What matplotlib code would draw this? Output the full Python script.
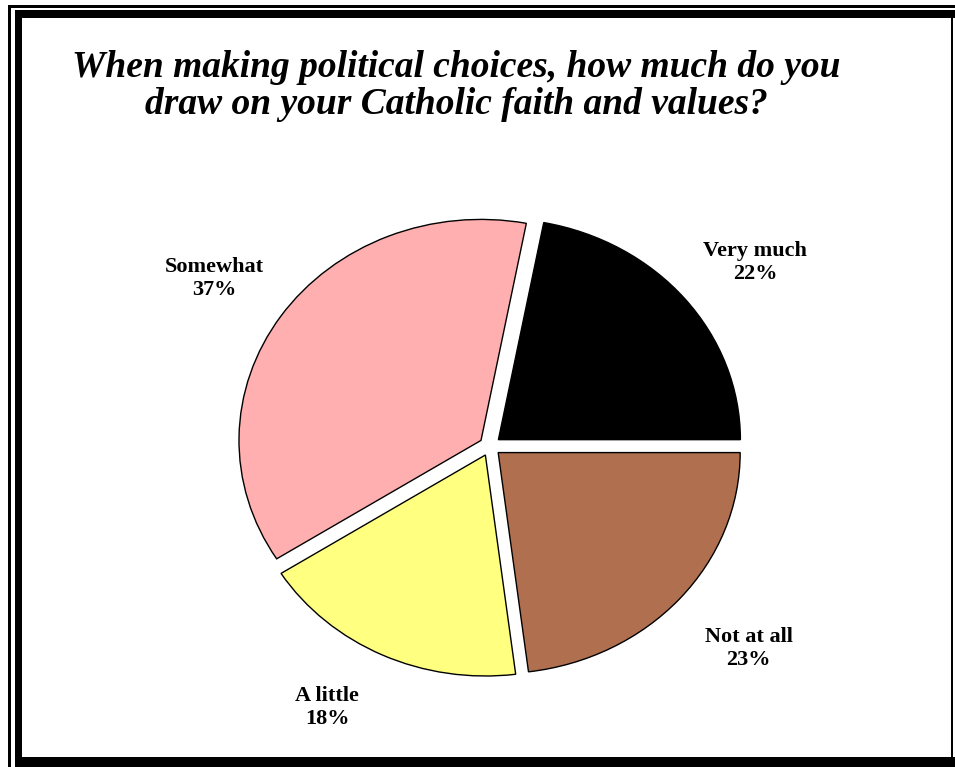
import matplotlib
matplotlib.use("Agg")
import matplotlib.pyplot as plt
from matplotlib.patches import Rectangle

title = "When making political choices, how much do you\ndraw on your Catholic faith and values?"
categories = ["Very much", "Somewhat", "A little", "Not at all"]
values = [22, 37, 18, 23]
colors = ["#000000", "#FFAFAF", "#FFFF80", "#B07050"]

W, H = 955, 767
fig = plt.figure(figsize=(W / 100, H / 100), dpi=100)

# pie axes: centre ~ (490, 446) px, rx 242 px, ry 221 px per unit
cx, cy, rx, ry, lim = 490, 446, 242, 221, 1.2
aw, ah = 2 * lim * rx, 2 * lim * ry
ax = fig.add_axes([(cx - aw / 2) / W, (H - cy - ah / 2) / H, aw / W, ah / H])

labels = [f"{c}\n{v}%" for c, v in zip(categories, values)]
wedges, texts = ax.pie(values, colors=colors, startangle=0, counterclock=True,
                       explode=[0.045] * 4, labels=labels, labeldistance=1.33,
                       wedgeprops=dict(edgecolor="black", linewidth=1.0),
                       textprops=dict(family="Liberation Serif", fontsize=16,
                                      fontweight="bold", color="black"))
# small label nudges (in data units) to follow the reference placement
nudges = [(0.037, -0.045), (0.0, -0.014), (-0.087, 0.059), (0.037, -0.005)]
for t, (dx, dy) in zip(texts, nudges):
    x, y = t.get_position()
    t.set_position((x + dx, y + dy))
    t.set_ha("center")
    t.set_va("center")
    t.set_multialignment("center")
    t.set_linespacing(1.2)
ax.set_aspect("auto")
ax.set_xlim(-lim, lim)
ax.set_ylim(-lim, lim)
ax.axis("off")

fig.text(456 / W, 1 - 86 / H, title, ha="center", va="center",
         family="Liberation Serif", fontsize=27, fontweight="bold",
         fontstyle="italic", linespacing=1.08)

def rect(x0, y0, x1, y1):
    fig.patches.append(Rectangle((x0 / W, 1 - y1 / H), (x1 - x0) / W, (y1 - y0) / H,
                                 transform=fig.transFigure, facecolor="black",
                                 edgecolor="none", zorder=5))

rect(8, 5, W, 8)        # outer top thin
rect(8, 5, 11, H)       # outer left thin
rect(15, 10, W, 18)     # inner top thick
rect(15, 10, 22, 758)   # inner left thick
rect(15, 757, W, H)     # bottom thick
rect(951, 10, 953, 758) # right thin

fig.savefig("out.png", dpi=100)
